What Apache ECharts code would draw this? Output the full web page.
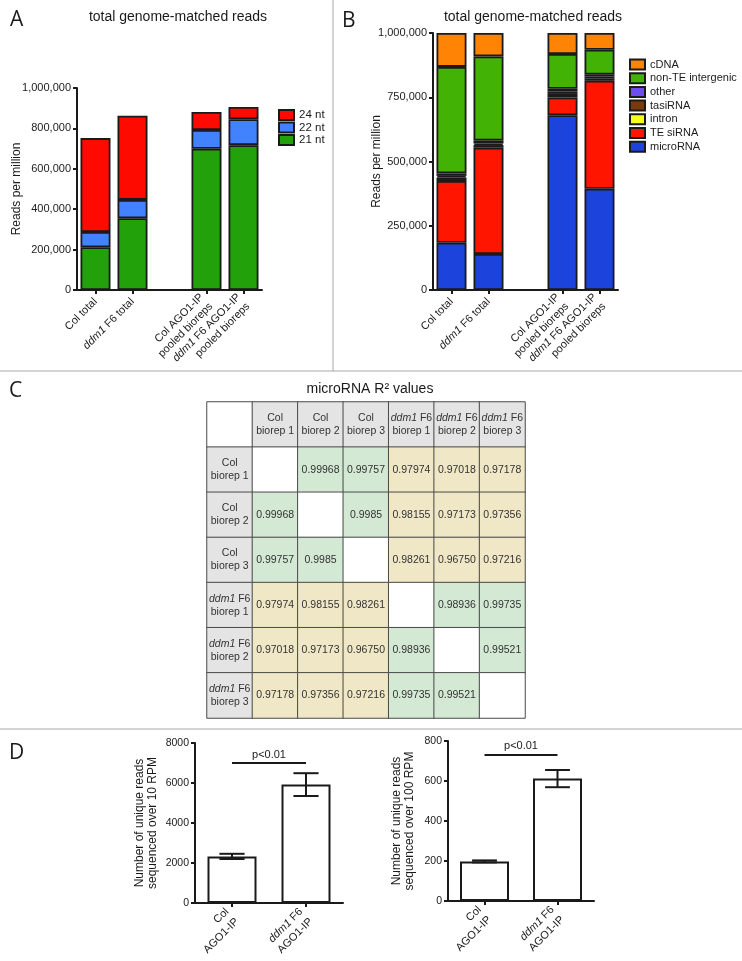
<!DOCTYPE html>
<html><head><meta charset="utf-8">
<script src="https://cdn.jsdelivr.net/npm/echarts@6/dist/echarts.min.js"></script>
<style>html,body{margin:0;padding:0;background:#fff}#c{width:742px;height:961px}</style>
</head><body><div id="c"></div>
<script>
// ---------- Panel A data ----------
const catsA = ['Col total', 'ddm1 F6 total', '', 'Col AGO1-IP\npooled bioreps', 'ddm1 F6 AGO1-IP\npooled bioreps'];
const nt21 = [212000, 355000, null, 699000, 717000];
const nt22 = [75000, 91000, null, 93000, 128000];
const nt24 = [465000, 417000, null, 89000, 61000];
const ticksA = [0, 200000, 400000, 600000, 800000, 1000000];

// ---------- Panel B data ----------
const microRNA = [184000, 140000, null, 680000, 394000];
const teSiRNA  = [240000, 414000, null, 69000, 420000];
const intron   = [14000, 10000, null, 14000, 8000];
const tasiRNA  = [6000, 6000, null, 10000, 8000];
const other    = [10000, 12000, null, 10000, 8000];
const nonTE    = [414000, 327000, null, 135000, 97000];
const cDNA     = [132000, 91000, null, 82000, 65000];
const ticksB = [0, 250000, 500000, 750000, 1000000];

// ---------- Panel C data ----------
const tableLabels = ['Col biorep 1', 'Col biorep 2', 'Col biorep 3', 'ddm1 F6 biorep 1', 'ddm1 F6 biorep 2', 'ddm1 F6 biorep 3'];
const r2 = [
  [null, '0.99968', '0.99757', '0.97974', '0.97018', '0.97178'],
  ['0.99968', null, '0.9985', '0.98155', '0.97173', '0.97356'],
  ['0.99757', '0.9985', null, '0.98261', '0.96750', '0.97216'],
  ['0.97974', '0.98155', '0.98261', null, '0.98936', '0.99735'],
  ['0.97018', '0.97173', '0.96750', '0.98936', null, '0.99521'],
  ['0.97178', '0.97356', '0.97216', '0.99735', '0.99521', null]
];

// ---------- Panel D data ----------
const catsD = ['Col\nAGO1-IP', 'ddm1 F6\nAGO1-IP'];
const over10 = [2330, 5920];
const over10Err = [130, 570];
const over100 = [198, 612];
const over100Err = [5, 43];
const pText = 'p<0.01';
const pY10 = 7000;
const pY100 = 732;

// ---------- styling ----------
const FONT = 'Liberation Sans, Arial, sans-serif';
const INK = '#1a1a1a';
const italFmt = v => String(v).split('\n').map(l => l.replace(/^ddm1/, '{i|ddm1}')).join('\n');
const commas = v => String(v).replace(/\B(?=(\d{3})+(?!\d))/g, ',');
const plain = v => String(v);
const axisLineS = {show: true, lineStyle: {color: INK, width: 2}};
const tickS = {show: true, length: 4, lineStyle: {color: INK, width: 2}};

function catX(grid, data, fs, margin, lh) {
  return {
    type: 'category', gridIndex: grid, data: data,
    axisLine: axisLineS,
    axisTick: Object.assign({alignWithLabel: true, interval: (i, v) => v !== ''}, tickS),
    axisLabel: {rotate: 45, interval: 0, margin: margin, fontSize: fs, fontFamily: FONT, color: INK,
      lineHeight: lh, formatter: italFmt,
      rich: {i: {fontStyle: 'italic', fontSize: fs, fontFamily: FONT, color: INK, lineHeight: lh}}},
    splitLine: {show: false}
  };
}
function valY(grid, max, interval, name, gap, fmt, fs) {
  return {
    type: 'value', gridIndex: grid, min: 0, max: max, interval: interval,
    name: name, nameLocation: 'middle', nameGap: gap, nameMoveOverlap: false,
    nameTextStyle: {fontSize: 12, fontFamily: FONT, color: INK, lineHeight: 13},
    axisLine: axisLineS, axisTick: tickS,
    axisLabel: {margin: 6, fontSize: fs, fontFamily: FONT, color: INK, formatter: fmt},
    splitLine: {show: false}
  };
}

const border = {borderColor: INK, borderWidth: 1.8};
function stackBar(name, data, color, xi, stack) {
  return {type: 'bar', name: name, xAxisIndex: xi, yAxisIndex: xi, stack: stack, data: data,
    barWidth: 30, itemStyle: Object.assign({color: color}, border), emphasis: {disabled: true}};
}

// ---------- table (heatmap) ----------
const hdr = s => { const k = s.indexOf(' biorep'); return italFmt(s.slice(0, k)) + '\n' + s.slice(k + 1); };
const grp = s => s.startsWith('Col') ? 'Col' : 'ddm1';
const hmData = [];
for (let r = 0; r < 7; r++) {
  for (let c = 0; c < 7; c++) {
    let txt = '', color = '#ffffff', v = 0;
    if (r === 0 && c > 0) { txt = hdr(tableLabels[c - 1]); color = '#e4e4e4'; }
    else if (c === 0 && r > 0) { txt = hdr(tableLabels[r - 1]); color = '#e4e4e4'; }
    else if (r > 0 && c > 0 && r2[r - 1][c - 1] !== null) {
      txt = r2[r - 1][c - 1]; v = +txt;
      color = grp(tableLabels[r - 1]) === grp(tableLabels[c - 1]) ? '#d3e9d4' : '#f0e7c6';
    }
    hmData.push({value: [c, r, v], txt: txt, itemStyle: {color: color}});
  }
}

// ---------- error bars ----------
function errSeries(xi, means, errs) {
  return {
    type: 'custom', xAxisIndex: xi, yAxisIndex: xi, z: 10, silent: true,
    data: means.map((m, i) => [i, m - errs[i], m + errs[i]]),
    encode: {x: 0, y: [1, 2]},
    renderItem: (params, api) => {
      const lo = api.coord([api.value(0), api.value(1)]);
      const hi = api.coord([api.value(0), api.value(2)]);
      const w = api.size([1, 0])[0] * 0.17;
      const st = {stroke: INK, lineWidth: 2};
      return {type: 'group', children: [
        {type: 'line', shape: {x1: lo[0], y1: lo[1], x2: hi[0], y2: hi[1]}, style: st},
        {type: 'line', shape: {x1: lo[0] - w, y1: lo[1], x2: lo[0] + w, y2: lo[1]}, style: st},
        {type: 'line', shape: {x1: hi[0] - w, y1: hi[1], x2: hi[0] + w, y2: hi[1]}, style: st}
      ]};
    }
  };
}
function dBar(xi, data, pY) {
  return {
    type: 'bar', xAxisIndex: xi, yAxisIndex: xi, data: data, barWidth: 49,
    itemStyle: {color: '#ffffff', borderColor: INK, borderWidth: 2}, emphasis: {disabled: true},
    markLine: {symbol: 'none', silent: true, lineStyle: {color: INK, width: 2, type: 'solid'},
      label: {show: true, position: 'insideMiddleTop', formatter: pText, fontSize: 11, fontFamily: FONT, color: INK, distance: 3},
      data: [[{coord: [0, pY]}, {coord: [1, pY]}]]}
  };
}

const letter = (t, x, y) => ({type: 'text', x: x, y: y, style: {text: t, font: '21px "Open Sans", sans-serif', fill: INK}});
const heading = (t, x, y) => ({type: 'text', x: x, y: y, style: {text: t, font: '14px ' + FONT, fill: INK, textAlign: 'center'}});
const rule = (x1, y1, x2, y2) => ({type: 'line', shape: {x1: x1, y1: y1, x2: x2, y2: y2}, style: {stroke: '#a8a8a8', lineWidth: 1}});

const chart = echarts.init(document.getElementById('c'), null, {renderer: 'canvas'});
chart.setOption({
  animation: false,
  backgroundColor: '#ffffff',
  textStyle: {fontFamily: FONT},
  graphic: [
    rule(0, 371, 742, 371), rule(333, 0, 333, 371), rule(0, 729, 742, 729),
    letter('A', 10, 10), letter('B', 342, 11), letter('C', 9, 381), letter('D', 9, 743),
    heading('total genome-matched reads', 178, 10),
    heading('total genome-matched reads', 533, 10),
    heading('microRNA R\u00B2 values', 370, 382)
  ],
  legend: [
    {data: ['24 nt', '22 nt', '21 nt'], left: 278, top: 109, orient: 'vertical', icon: 'rect', padding: 0,
      itemWidth: 15, itemHeight: 10, itemGap: 0.5, selectedMode: false,
      textStyle: {fontSize: 11.5, fontFamily: FONT, color: INK, lineHeight: 12}},
    {data: ['cDNA', 'non-TE intergenic', 'other', 'tasiRNA', 'intron', 'TE siRNA', 'microRNA'],
      left: 629, top: 58, orient: 'vertical', icon: 'rect', padding: 0,
      itemWidth: 15, itemHeight: 10, itemGap: 0.7, selectedMode: false,
      textStyle: {fontSize: 11, fontFamily: FONT, color: INK, lineHeight: 13}}
  ],
  grid: [
    {left: 77, top: 88, width: 185, height: 202, outerBoundsMode: 'none'},
    {left: 433, top: 33, width: 185, height: 257, outerBoundsMode: 'none'},
    {left: 207, top: 402, width: 318, height: 316, outerBoundsMode: 'none'},
    {left: 195, top: 743, width: 148, height: 160, outerBoundsMode: 'none'},
    {left: 448, top: 741, width: 146, height: 160, outerBoundsMode: 'none'}
  ],
  xAxis: [
    catX(0, catsA, 11, 10, 13),
    catX(1, catsA, 11, 10, 13),
    {type: 'category', gridIndex: 2, data: [0, 1, 2, 3, 4, 5, 6], show: false},
    catX(3, catsD, 11, 12, 14),
    catX(4, catsD, 11, 12, 14)
  ],
  yAxis: [
    valY(0, ticksA[ticksA.length - 1], ticksA[1] - ticksA[0], 'Reads per million', 54, commas, 11),
    valY(1, ticksB[ticksB.length - 1], ticksB[1] - ticksB[0], 'Reads per million', 50, commas, 11),
    {type: 'category', gridIndex: 2, data: [0, 1, 2, 3, 4, 5, 6], inverse: true, show: false},
    valY(3, 8000, 2000, 'Number of unique reads\nsequenced over 10 RPM', 36, plain, 10.5),
    valY(4, 800, 200, 'Number of unique reads\nsequenced over 100 RPM', 32, plain, 10.5)
  ],
  series: [
    stackBar('21 nt', nt21, '#22a10a', 0, 'A'),
    stackBar('22 nt', nt22, '#4282ff', 0, 'A'),
    stackBar('24 nt', nt24, '#ff0a00', 0, 'A'),
    stackBar('microRNA', microRNA, '#1c44dc', 1, 'B'),
    stackBar('TE siRNA', teSiRNA, '#ff1500', 1, 'B'),
    stackBar('intron', intron, '#f4ff1a', 1, 'B'),
    stackBar('tasiRNA', tasiRNA, '#7b3a0c', 1, 'B'),
    stackBar('other', other, '#6d4cf0', 1, 'B'),
    stackBar('non-TE intergenic', nonTE, '#42b305', 1, 'B'),
    stackBar('cDNA', cDNA, '#ff8305', 1, 'B'),
    {
      type: 'heatmap', xAxisIndex: 2, yAxisIndex: 2, data: hmData, emphasis: {disabled: true},
      itemStyle: {borderColor: '#4a4a4a', borderWidth: 1},
      label: {show: true, formatter: p => p.data.txt, fontSize: 10.5, fontFamily: FONT, color: '#333',
        lineHeight: 13, rich: {i: {fontStyle: 'italic', fontSize: 10.5, fontFamily: FONT, color: '#333', lineHeight: 13}}}
    },
    dBar(3, over10, pY10),
    errSeries(3, over10, over10Err),
    dBar(4, over100, pY100),
    errSeries(4, over100, over100Err)
  ]
});
</script></body></html>
